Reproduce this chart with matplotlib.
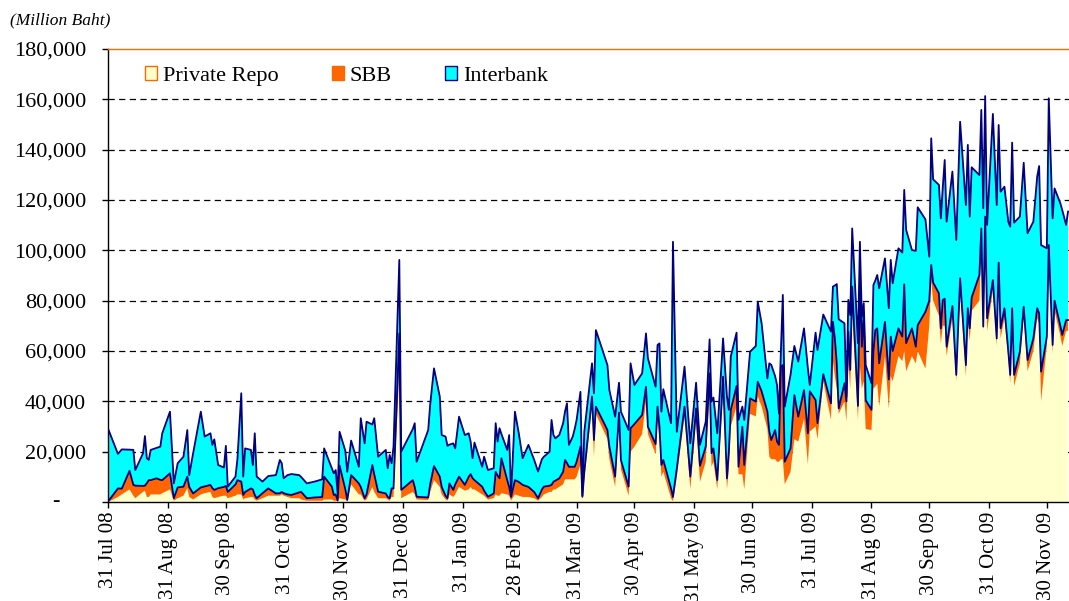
import matplotlib
matplotlib.use('Agg')
import matplotlib.pyplot as plt
import matplotlib.dates as mdates
import matplotlib.patches as mpatches
import matplotlib.transforms as mtransforms
import pandas as pd

plt.rcParams['font.family'] = ['Liberation Serif', 'DejaVu Serif']

# days after 31 Jul 08
days = [0, 5, 7, 11, 13, 14, 18, 19, 20, 21, 22, 25, 27, 28, 32, 34, 36, 39, 41, 42,
        44, 48, 50, 53, 54, 55, 57, 60, 61, 62, 66, 67, 69, 70, 71, 74, 75, 76, 77, 80,
        83, 87, 89, 90, 91, 93, 95, 99, 100, 103, 107, 111, 112, 116, 117, 118, 119, 120, 123, 124,
        126, 130, 131, 133, 134, 137, 138, 140, 144, 145, 146, 147, 148, 151, 152, 158, 159, 160, 166, 167,
        169, 172, 173, 175, 176, 177, 179, 180, 182, 185, 187, 188, 189, 190, 194, 195, 197, 200, 201, 202,
        203, 204, 207, 208, 209, 211, 213, 215, 218, 221, 223, 225, 226, 229, 230, 231, 232, 234, 236, 237,
        238, 239, 241, 242, 243, 245, 246, 247, 251, 252, 253, 259, 260, 263, 265, 266, 270, 271, 273, 277,
        279, 280, 284, 285, 286, 287, 288, 292, 293, 295, 299, 302, 305, 307, 310, 312, 313, 314, 316, 319,
        321, 322, 323, 326, 327, 329, 330, 333, 336, 337, 339, 342, 343, 344, 346, 347, 348, 349, 350, 351,
        354, 356, 358, 361, 363, 364, 367, 368, 371, 375, 376, 377, 378, 379, 382, 383, 384, 385, 386, 389,
        390, 391, 392, 393, 396, 397, 398, 399, 400, 403, 405, 406, 407, 410, 412, 413, 414, 417, 419, 420,
        424, 426, 427, 428, 431, 432, 433, 434, 435, 438, 440, 442, 445, 446, 447, 448, 452, 453, 454, 455,
        456, 459, 461, 462, 463, 465, 467, 468, 469, 470, 473, 475, 477, 480, 482, 483, 484, 487, 488, 490,
        491, 494, 495, 497, 498]

private_repo = [0, 2000, 3000, 5000, 2500, 1500, 4000, 4500, 2000, 2000, 3000, 3000, 3000, 3500, 5000, 500, 1500, 2500, 5500, 2000,
                1000, 3000, 3500, 4000, 2000, 1500, 2000, 2500, 2500, 1500, 2500, 3000, 3000, 1000, 1500, 2000, 2000, 1000, 500, 1500,
                2500, 2500, 2500, 3000, 2500, 2000, 1500, 1500, 1000, 500, 500, 500, 1000, 1000, 500, 500, 200, 1500, 1000, 300,
                7000, 3000, 3000, 500, 1000, 6000, 4000, 1500, 1500, 1000, 500, 2000, 2000, 52000, 1500, 4000, 3000, 1000, 800, 4000,
                8700, 6000, 3000, 1000, 500, 3000, 2000, 3000, 6000, 4500, 5000, 6000, 5000, 5000, 3000, 2500, 1000, 1500, 3000, 2500,
                2500, 3500, 3000, 2500, 500, 3000, 2500, 2000, 2000, 1500, 500, 2000, 3000, 4000, 4000, 5000, 5000, 6000, 7000, 9000,
                9000, 9000, 9000, 9000, 10000, 15000, 1000, 9000, 38000, 18000, 35000, 25000, 17000, 6000, 33000, 13000, 2500, 20000, 22000, 27000,
                40000, 27000, 19000, 32000, 25000, 10000, 12000, 1500, 300, 10000, 34000, 5000, 32000, 8000, 16000, 44000, 14000, 16000, 5000, 44000,
                5000, 13000, 30000, 38000, 11000, 11000, 5000, 35000, 34000, 42000, 38000, 29000, 18000, 17000, 17000, 16000, 16000, 17000, 17000, 7000,
                12000, 25000, 24000, 33000, 15000, 28000, 30000, 25000, 48000, 32600, 56000, 50000, 45000, 35000, 40000, 32000, 55000, 45000, 75000, 32600,
                54000, 45000, 48000, 29000, 28600, 45000, 46000, 47000, 38000, 58000, 37000, 50000, 48000, 58000, 56000, 60000, 52000, 58000, 55000, 60000,
                53000, 70000, 88000, 80000, 74000, 63000, 70000, 70000, 58000, 73000, 48000, 84000, 50000, 72000, 64000, 76000, 80000, 100000, 68000, 105000,
                68000, 84000, 62000, 90000, 65000, 73000, 57000, 47000, 73000, 46000, 55000, 74000, 52000, 60000, 73000, 71000, 40000, 62000, 98000, 59000,
                76000, 66000, 62000, 68000, 68000]

sbb = [300, 3400, 2300, 7400, 4300, 5000, 2400, 2000, 5500, 6700, 5700, 6400, 5800, 5200, 6400, 1000, 4300, 3600, 4600, 4000,
       2400, 2800, 2700, 2800, 3500, 3300, 3500, 3500, 3900, 2500, 4500, 5700, 5100, 1800, 2500, 3400, 3000, 1800, 1000, 2000,
       2900, 900, 1000, 1000, 1000, 1000, 1300, 2300, 3100, 1000, 1300, 1500, 9100, 5100, 2300, 2500, 400, 13000, 4000, 500,
       3700, 4400, 3000, 1000, 2000, 8700, 7000, 2600, 1900, 1000, 1000, 3400, 3400, 15000, 3300, 4700, 3000, 1100, 1000, 3000,
       5600, 4100, 3000, 1500, 1000, 4400, 2800, 4000, 4100, 2300, 5000, 5100, 4500, 3700, 3100, 2000, 1100, 1900, 9000, 8000,
       6900, 13900, 5700, 3500, 1500, 5700, 5500, 4800, 4000, 2500, 1000, 3000, 3100, 2500, 2800, 3100, 3500, 3400, 5000, 7700,
       6500, 5000, 5000, 5000, 6000, 7000, 1100, 3000, 3900, 6600, 2900, 3600, 5000, 4100, 2500, 3700, 3600, 9300, 9000, 7600,
       5800, 2900, 4000, 5900, 5000, 4700, 4700, 3900, 1700, 3400, 3900, 5100, 5200, 6400, 6000, 7100, 5400, 5300, 3700, 5800,
       4400, 7000, 6600, 8100, 3000, 18900, 9700, 6200, 5900, 5800, 6000, 6900, 10000, 7600, 11600, 8000, 6700, 36800, 37400, 9000,
       9300, 17500, 9900, 11500, 12300, 16000, 10500, 6300, 2800, 6600, 15600, 15000, 10000, 2200, 7200, 8000, 12700, 7500, 10600, 5600,
       35500, 16700, 27600, 11500, 8000, 15000, 22300, 22000, 17100, 13600, 11700, 15700, 12000, 11000, 9700, 26500, 11100, 11000, 6700, 10300,
       22600, 10000, 6200, 7200, 8900, 6000, 10300, 10800, 3700, 4900, 2500, 4900, 4400, 5000, 5000, 5300, 10200, 8700, 1700, 8400,
       5000, 4200, 3000, 5100, 4000, 4000, 3000, 3500, 4000, 4500, 4700, 3600, 4400, 5000, 4000, 4000, 11800, 3700, 4100, 3400,
       4000, 4000, 4400, 4300, 4300]

interbank = [28600, 13700, 15600, 8400, 13900, 6200, 12900, 19700, 9900, 8000, 12000, 12100, 13200, 18600, 24500, 5900, 9600, 11900, 18500, 4700,
             15900, 30100, 19800, 20500, 17200, 20100, 9200, 7700, 15900, 2100, 3100, 8300, 35100, 7300, 17300, 15300, 9700, 24500, 8600, 4600,
             4900, 7300, 13200, 11400, 5900, 7700, 8300, 6900, 5900, 5900, 6300, 7000, 11200, 7300, 8600, 9700, 2800, 13400, 15300, 11200,
             13700, 6600, 27300, 21800, 28900, 16100, 22300, 13900, 17300, 11400, 17200, 10000, 16600, 29200, 15200, 20300, 25300, 13900, 26800, 31500,
             38800, 31800, 20600, 23500, 20800, 15400, 18500, 14300, 23800, 19800, 17300, 12900, 7900, 14900, 7900, 13500, 10600, 10000, 19300, 13500,
             19900, 9600, 12000, 20600, 800, 27200, 19300, 10600, 16700, 12700, 10600, 12000, 11900, 13500, 25800, 18500, 16800, 17200, 19300, 19300,
             23700, 8700, 12000, 15000, 16600, 21800, 400, 16000, 13200, 18600, 30400, 25800, 22500, 23800, 11900, 19200, 22500, 25800, 15500, 16500,
             21200, 27200, 22800, 24500, 33000, 21200, 28100, 25900, 101400, 14500, 15900, 13200, 10200, 8300, 9900, 13500, 20500, 20200, 18600, 15200,
             32600, 16600, 21200, 21200, 18600, 8000, 17900, 18500, 22100, 31800, 27000, 13200, 27100, 29900, 21400, 22500, 12500, 6200, 27900, 21900,
             29200, 19500, 21900, 24500, 25800, 2500, 26800, 29100, 23700, 28500, 14000, 21000, 31600, 35400, 23800, 1900, 12600, 21800, 23100, 24900,
             13900, 11900, 3400, 13900, 10600, 26200, 19700, 21200, 29800, 25200, 28300, 30500, 26900, 31800, 33400, 37500, 45000, 31100, 38100, 46800,
             36700, 17500, 50300, 41000, 43100, 43700, 44700, 55100, 49700, 53400, 53600, 62200, 63600, 64900, 44400, 51700, 39700, 47100, 47000, 47900,
             37100, 66000, 53000, 54700, 54300, 48300, 51400, 58900, 65800, 60500, 53700, 57200, 50400, 46400, 52300, 58500, 50300, 35100, 58300, 50300,
             44600, 48700, 49600, 37800, 43100]

month_ends = pd.date_range('2008-07-31', '2009-11-30', freq='ME')

start = pd.Timestamp('2008-07-31')
dates = start + pd.to_timedelta(days, unit='D')
cum_sbb = [r + s for r, s in zip(private_repo, sbb)]
total = [c + i for c, i in zip(cum_sbb, interbank)]

yellow = '#FFFFCC'
orange = '#FF6600'
cyan = '#00FFFF'
navy = '#000080'

fig = plt.figure(figsize=(10.69, 6.01), dpi=100)
ax = fig.add_axes([108.3 / 1069, 1 - 502 / 601, (1069 - 108.3) / 1069, 453 / 601])

ax.stackplot(dates, private_repo, sbb, interbank, colors=[yellow, orange, cyan], linewidth=0, zorder=2)
ax.plot(dates, cum_sbb, color=navy, lw=1.3, zorder=3)
ax.plot(dates, total, color=navy, lw=1.3, zorder=3)

ax.set_xlim(start, start + pd.Timedelta(days=498.5))
ax.set_ylim(0, 180000)

yt = list(range(0, 180001, 20000))
ax.set_yticks(yt)
ax.set_yticklabels(['' if v == 0 else f'{v:,}' for v in yt], fontsize=16)
ax.text(-0.055, 0, '-', transform=mtransforms.blended_transform_factory(ax.transAxes, ax.transData),
        ha='center', va='center', fontsize=16)
for v in yt[1:-1]:
    ax.axhline(v, color='black', lw=0.9, dashes=(5, 3.5), zorder=1)

ax.set_xticks(month_ends)
ax.xaxis.set_major_formatter(mdates.DateFormatter('%d %b %y'))
plt.setp(ax.get_xticklabels(), rotation=90, fontsize=15)

ax.tick_params(axis='y', direction='out', length=4, width=1, pad=12)
ax.tick_params(axis='x', direction='out', length=4, width=1, pad=3)

ax.spines['right'].set_visible(False)
ax.spines['top'].set_color(orange)
ax.spines['top'].set_linewidth(1)
ax.spines['left'].set_linewidth(1)
ax.spines['bottom'].set_linewidth(1)

fig.text(10 / 1069, 1 - 20 / 601, '(Million Baht)', style='italic', fontsize=12.5, va='center', ha='left')

handles = [mpatches.Patch(facecolor=yellow, edgecolor=orange, lw=1, label='Private Repo'),
           mpatches.Patch(facecolor=orange, edgecolor=orange, lw=1, label='SBB'),
           mpatches.Patch(facecolor=cyan, edgecolor=navy, lw=1, label='Interbank')]
fig.legend(handles=handles, loc='center left', bbox_to_anchor=(145 / 1069, 1 - 76 / 601), ncol=3,
           frameon=False, fontsize=16, handlelength=0.55, handleheight=0.55, handletextpad=0.25,
           columnspacing=2.4, borderpad=0, borderaxespad=0)

fig.savefig('out.png', dpi=100)
